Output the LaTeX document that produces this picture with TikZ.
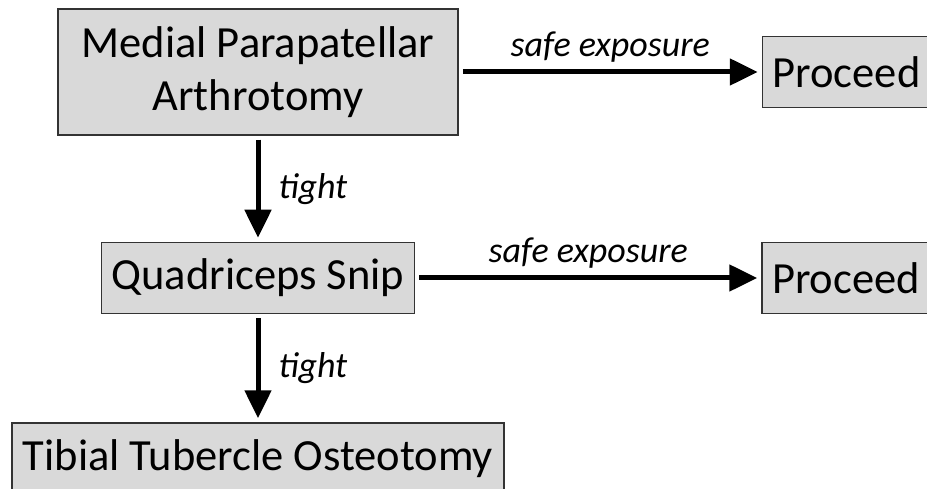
\documentclass[tikz,border=0pt]{standalone}
\usepackage{fontspec}
\setmainfont{Carlito}
\usepackage{tikz}
\usetikzlibrary{arrows.meta,positioning}

\begin{document}
\begin{tikzpicture}[stage/.style={rectangle, draw=black!80, line width=1.5pt, fill=black!15, minimum height=71pt, align=center, inner sep=0pt, font=\fontsize{44.5}{53}\selectfont},
  flow/.style={-{Triangle[length=28pt,width=26pt]}, line width=5pt, shorten <=4pt, shorten >=4pt},
  cond/.style={inner sep=2pt, font=\fontsize{36}{42}\selectfont\itshape}]

\clip (0,0) rectangle (927pt,-489pt);

%Nodes
\node[stage, minimum width=400pt, minimum height=126pt] (medial) at (258pt,-72pt) {Medial Parapatellar\\Arthrotomy};
\node[stage, minimum width=313pt] (quad)   [below=106pt of medial] {Quadriceps Snip};
\node[stage, minimum width=492pt] (tibial) [below=108pt of quad]   {Tibial Tubercle Osteotomy};
\node[stage, minimum width=168pt] (proc1)  [right=303pt of medial] {Proceed};
\node[stage, minimum width=168pt] (proc2)  [right=346pt of quad]   {Proceed};
%Lines
\draw[flow] (medial.east) -- node[cond, above=5pt] {safe exposure} (proc1.west);
\draw[flow] (quad.east) -- node[cond, above=5pt] {safe exposure} (proc2.west);

\draw[flow] (medial.south) -- node[cond, right=16pt] {tight} (quad.north);
\draw[flow] (quad.south) -- node[cond, right=16pt] {tight} (tibial.north);

\end{tikzpicture}
\end{document}
